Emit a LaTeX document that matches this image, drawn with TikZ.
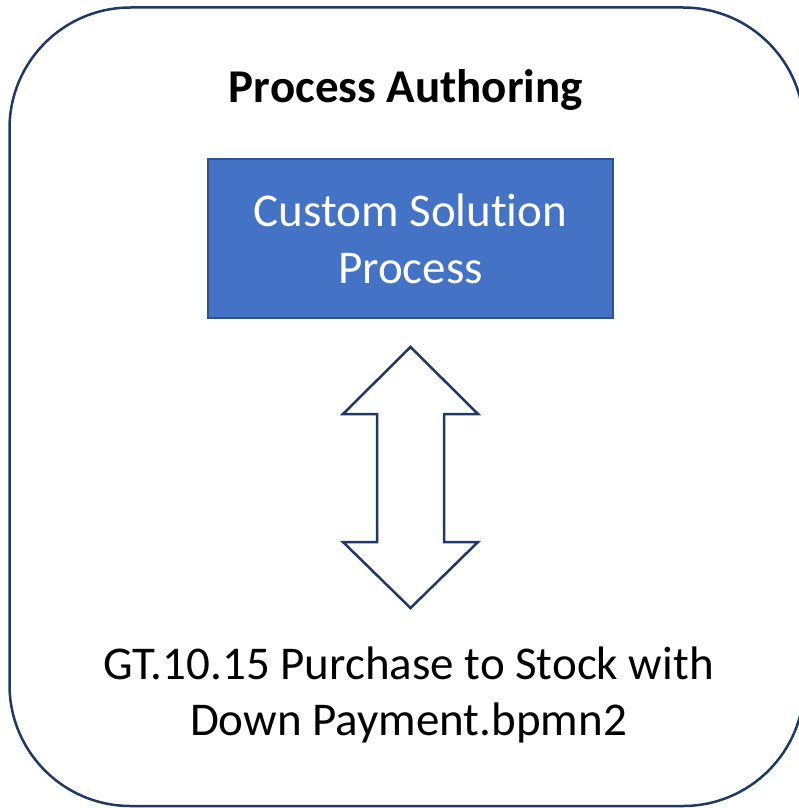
\documentclass[tikz,border=0pt]{standalone}
\usepackage{fontspec}
\setmainfont{Carlito}[Ligatures={NoCommon,NoRequired,NoContextual}]
\usepackage{tikz}
\usetikzlibrary{positioning}

\definecolor{framenavy}{HTML}{203864}
\definecolor{boxblue}{HTML}{4472C4}
\definecolor{boxline}{HTML}{2F528F}

\tikzset{
  frame/.style={draw=framenavy, line width=2.5pt, rounded corners=121pt},
  procbox/.style={draw=boxline, line width=2pt, fill=boxblue, text=white,
    minimum width=405pt, minimum height=159pt, align=center, inner sep=0pt,
    font=\fontsize{47}{57}\selectfont},
  label/.style={align=center, inner sep=0pt, font=\fontsize{47}{56}\selectfont},
  blockarrow/.style={draw=framenavy, line width=2.5pt, fill=white, line join=miter}
}

\begin{document}
\begin{tikzpicture}[x=1pt,y=-1pt]
\useasboundingbox (0,0) rectangle (799,808);
\clip (0,0) rectangle (799,808);
\draw[frame] (9.5,7.5) rectangle (804,806);
\node[font=\bfseries\fontsize{47}{56}\selectfont, anchor=base] (title) at (406,102) {Process Authoring};
\node[procbox] (custom) at (410.5,238.5) {Custom Solut\kern0pt ion\\Process};
\node[label, anchor=base] (bpmn) at (408.5,735) {GT.10.15 Purchase to Stock with\\Down Payment.bpmn2};
%\draw[<->] (custom) -- (bpmn);
\draw[blockarrow] (410.5,347) -- (478,414) -- (444,414) -- (444,542) -- (478,542)
  -- (410.5,608) -- (343,542) -- (377,542) -- (377,414) -- (343,414) -- cycle;
\end{tikzpicture}
\end{document}
